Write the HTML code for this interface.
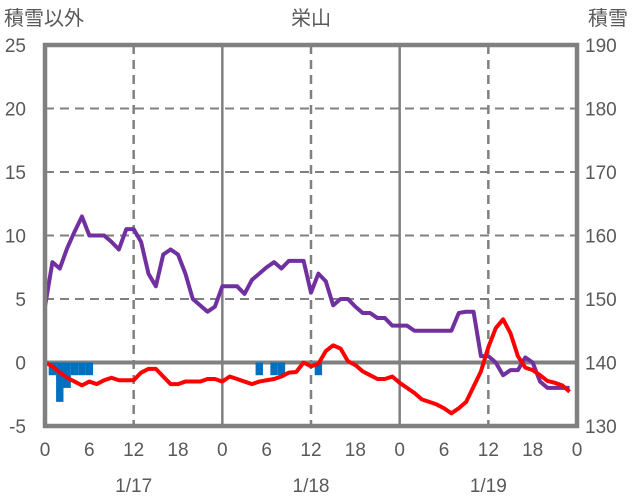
<!DOCTYPE html>
<html><head><meta charset="utf-8">
<style>
body{margin:0;background:#fff;}
svg{display:block;font-family:"Liberation Sans","Noto Sans CJK JP",sans-serif;}
</style></head>
<body>
<svg id="chart" width="636" height="501" viewBox="0 0 636 501" xmlns="http://www.w3.org/2000/svg">
<g id="grid"></g>
<g id="bars"></g>
<g id="lines"></g>
<rect x="45" y="45" width="532" height="381" fill="none" stroke="#808080" stroke-width="4.5"/>
<g id="labels" fill="#595959" font-size="19"></g>
<text x="4" y="25" font-size="20" fill="#595959">積雪以外</text>
<text x="311" y="25" font-size="20" fill="#595959" text-anchor="middle">栄山</text>
<text x="588" y="25" font-size="20" fill="#595959">積雪</text>
</svg>
<script>
const hours=[...Array(72).keys()];
const purple=[4.4,7.9,7.4,9,10.3,11.5,10,10,10,9.5,8.9,10.5,10.5,9.5,7,6,8.5,8.9,8.5,7,5,4.5,4,4.4,6,6,6,5.4,6.5,7,7.5,7.9,7.4,8,8,8,5.5,7,6.4,4.5,5,5,4.4,3.9,3.9,3.5,3.5,2.9,2.9,2.9,2.5,2.5,2.5,2.5,2.5,2.5,3.9,4,4,0.5,0.5,0,-1,-0.6,-0.6,0.4,0,-1.5,-2,-2,-2,-2];
const red=[0,-0.3,-0.8,-1.2,-1.5,-1.8,-1.5,-1.7,-1.4,-1.2,-1.4,-1.4,-1.4,-0.8,-0.5,-0.5,-1.1,-1.7,-1.7,-1.5,-1.5,-1.5,-1.3,-1.3,-1.5,-1.1,-1.3,-1.5,-1.7,-1.5,-1.4,-1.3,-1.1,-0.8,-0.75,0,-0.3,-0.1,0.9,1.35,1.1,0.1,-0.2,-0.7,-1,-1.3,-1.3,-1.1,-1.6,-2,-2.4,-2.9,-3.1,-3.3,-3.6,-4,-3.6,-3.1,-1.9,-0.7,1.2,2.7,3.4,2.3,0.5,-0.4,-0.6,-1,-1.45,-1.6,-1.8,-2.3];
const barHours=[1,2,3,4,5,6,29,31,32,37];
const barValues=[-1,-3.1,-2,-1,-1,-1,-1,-1,-1,-1];
const leftTicks=[-5,0,5,10,15,20,25];
const rightTicks=[130,140,150,160,170,180,190];
const xTickLabels=["0","6","12","18","0","6","12","18","0","6","12","18","0"];
const dateLabels=["1/17","1/18","1/19"];
const X0=45,X1=577,YT=45,YB=426;
const x=h=>X0+(X1-X0)*h/72;
const y=v=>YB-(v+5)*(YB-YT)/30;
const NS="http://www.w3.org/2000/svg";
function mk(tag,parent,attrs){const e=document.createElementNS(NS,tag);for(const k in attrs)e.setAttribute(k,attrs[k]);parent.appendChild(e);return e;}
const grid=document.getElementById('grid'),bars=document.getElementById('bars'),lines=document.getElementById('lines'),labels=document.getElementById('labels');
leftTicks.forEach(v=>{if(v===-5||v===25)return;
 const l=mk('line',grid,{x1:X0,x2:X1,y1:y(v),y2:y(v),stroke:'#808080','stroke-width':v===0?4:2,'stroke-dasharray':v===0?'none':'9,6'});
 
 });
for(let h=12;h<72;h+=12){const day=h%24===0;
 const l=mk('line',grid,{x1:x(h),x2:x(h),y1:YT,y2:YB,stroke:'#808080','stroke-width':2.5,'stroke-dasharray':day?'none':'9,6'});
 
 }
barHours.forEach((h,i)=>{const w=(X1-X0)/72;
 const r=mk('rect',bars,{x:x(h)-w/2,y:y(0),width:w,height:y(barValues[i])-y(0),fill:'#0070C0'});
 
 });
function line(arr,color,name){const p=mk('polyline',lines,{points:arr.map((v,i)=>x(hours[i])+','+y(v)).join(' '),fill:'none',stroke:color,'stroke-width':4,'stroke-linejoin':'round'});
 
 }
line(purple,'#7030A0','purple-series-line');
line(red,'#FF0000','red-series-line');
leftTicks.forEach(v=>{const t=mk('text',labels,{x:26,y:y(v)+7,'text-anchor':'end'});t.textContent=v;
 
 });
rightTicks.forEach((v,i)=>{const t=mk('text',labels,{x:585,y:y(leftTicks[i])+7});t.textContent=v;
 
 });
xTickLabels.forEach((s,i)=>{const t=mk('text',labels,{x:x(i*6),y:456,'text-anchor':'middle'});t.textContent=s;
 
 });
dateLabels.forEach((s,i)=>{const t=mk('text',labels,{x:x(12+24*i),y:492,'text-anchor':'middle'});t.textContent=s;
 
 });
</script>
</body></html>
